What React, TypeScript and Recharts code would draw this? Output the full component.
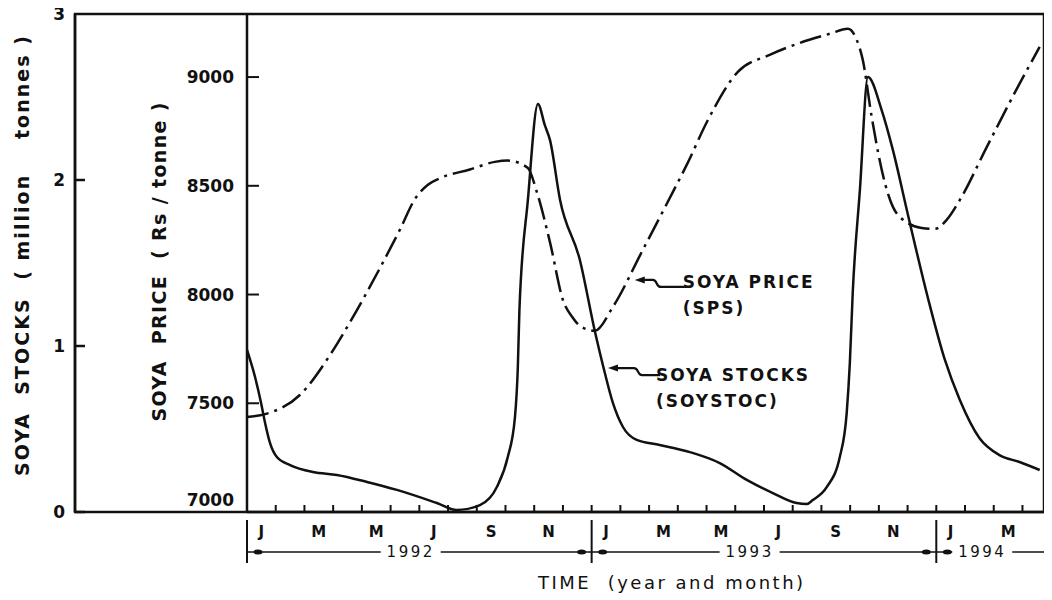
import { LineChart, Line, XAxis, YAxis, ReferenceDot, Label } from 'recharts';

// time axis: months since Jan 1992
const monthLabelPos = [0.5, 2.5, 4.5, 6.5, 8.5, 10.5, 12.5, 14.5, 16.5, 18.5, 20.5, 22.5, 24.5, 26.5];
const monthLabels = ['J', 'M', 'M', 'J', 'S', 'N', 'J', 'M', 'M', 'J', 'S', 'N', 'J', 'M'];
const monthMarks = [0, 1, 2, 3, 4, 5, 6, 7, 8, 9, 10, 11, 12, 13, 14, 15, 16, 17, 18, 19, 20, 21, 22, 23, 24, 25, 26, 27];
const yearBounds = [0, 12, 24];
const yearLabelPos = [5.7, 17.5, 25.6];
const yearLabels = ['1992', '1993', '1994'];
const timeEnd = 27.75;

const stockTicks = [0, 1, 2, 3];
const priceTicks = [7000, 7500, 8000, 8500, 9000];

// SOYA PRICE (SPS), Rs/tonne
const priceMonths = [0, 0.63, 1.84, 2.89, 3.59, 4.63, 5.33, 5.85, 6.3, 6.72, 7.76, 8.63, 9.08, 9.78, 10.09, 10.55, 11.0, 11.35, 11.59, 12.11, 12.74, 13.78, 14.83, 15.31, 16.05, 17.09, 18.2, 19.25, 20.29, 20.92, 21.23, 21.44, 21.75, 22.21, 22.49, 23.01, 23.49, 23.95, 24.36, 24.82, 25.76, 26.84, 27.6];
const priceValues = [7437, 7450, 7538, 7722, 7874, 8122, 8300, 8440, 8505, 8535, 8575, 8610, 8616, 8582, 8472, 8240, 7975, 7892, 7856, 7833, 7943, 8205, 8472, 8596, 8803, 9024, 9102, 9157, 9199, 9222, 9171, 9079, 8817, 8513, 8403, 8329, 8306, 8302, 8343, 8435, 8679, 8955, 9139];

// SOYA STOCKS (SOYSTOC), million tonnes
const stockMonths = [0, 0.28, 0.49, 0.63, 0.8, 1.04, 1.5, 2.3, 3.13, 4.18, 5.22, 6.61, 7.3, 8.11, 8.7, 9.08, 9.33, 9.43, 9.485, 9.78, 10.13, 10.37, 10.55, 10.9, 11.59, 12.11, 12.46, 12.74, 13.09, 13.57, 14.37, 15.42, 16.46, 17.4, 18.31, 19.14, 19.49, 19.7, 20.19, 20.64, 20.88, 20.99, 21.09, 21.34, 21.62, 22.1, 22.49, 23.0, 23.7, 24.3, 24.82, 25.5, 26.2, 26.9, 27.6];
const stockValues = [0.976, 0.813, 0.657, 0.536, 0.416, 0.331, 0.283, 0.241, 0.223, 0.181, 0.133, 0.054, 0.012, 0.042, 0.151, 0.331, 0.572, 0.873, 1.217, 1.88, 2.458, 2.33, 2.24, 1.88, 1.518, 1.09, 0.837, 0.657, 0.512, 0.434, 0.404, 0.361, 0.295, 0.193, 0.114, 0.054, 0.048, 0.072, 0.151, 0.331, 0.596, 0.898, 1.319, 1.94, 2.62, 2.42, 2.18, 1.8, 1.295, 0.916, 0.675, 0.446, 0.343, 0.301, 0.253];

const priceData = priceMonths.map((m, i) => ({ m, v: priceValues[i] }));
const stockData = stockMonths.map((m, i) => ({ m, v: stockValues[i] }));

const INK = '#111';
const FONT = '"DejaVu Sans", sans-serif';

// layout
const CHART_W = 1044;
const CHART_H = 592;
const MARGIN = { top: 6, right: 8, bottom: 4, left: 0 };
const STOCK_AXIS_W = 67;
const PRICE_AXIS_W = 172;
const MONTH_AXIS_H = 40;
const YEAR_AXIS_H = 44;
const PLOT_W = CHART_W - MARGIN.left - MARGIN.right - STOCK_AXIS_W - PRICE_AXIS_W;
const PLOT_H = CHART_H - MARGIN.top - MARGIN.bottom - MONTH_AXIS_H - YEAR_AXIS_H;

function StockTick(props: any) {
  const { x, y, payload } = props;
  const v = Number(payload.value);
  return (
    <g>
      {v === 3 ? (
        // outer frame: from the stock axis across the price band and the plot
        <rect x={x} y={y} width={PRICE_AXIS_W + PLOT_W} height={PLOT_H} fill="none" stroke={INK} strokeWidth={2.5} />
      ) : (
        <line x1={x} x2={x + 10} y1={y} y2={y} stroke={INK} strokeWidth={2.5} />
      )}
      <text x={x - 10} y={y} textAnchor="end" dominantBaseline="central" fontSize={17} fontWeight={700} fill={INK} fontFamily={FONT}>
        {v}
      </text>
    </g>
  );
}

function PriceTick(props: any) {
  const { x, y, payload } = props;
  const v = payload.value;
  return (
    <g>
      {v !== 7000 && <line x1={x} x2={x + 12} y1={y} y2={y} stroke={INK} strokeWidth={2} />}
      <text x={x - 13} y={v === 7000 ? y - 12 : y} textAnchor="end" dominantBaseline="central" fontSize={17} fontWeight={700} fill={INK} fontFamily={FONT}>
        {v}
      </text>
    </g>
  );
}

function MonthTick(props: any) {
  const { x, y, payload } = props;
  const v = payload.value;
  if (Number.isInteger(v)) {
    if (v === 0) return null;
    return <line x1={x} x2={x} y1={y} y2={y - 7} stroke={INK} strokeWidth={2} />;
  }
  const i = monthLabelPos.indexOf(v);
  return (
    <text x={x} y={y + 20} textAnchor="middle" dominantBaseline="central" fontSize={15} fontWeight={700} fill={INK} fontFamily={FONT}>
      {monthLabels[i]}
    </text>
  );
}

function YearTick(props: any) {
  const { x, y, payload } = props;
  const v = payload.value;
  const b = yearBounds.indexOf(v);
  if (b >= 0) {
    return (
      <g>
        <line x1={x} x2={x} y1={y - 32} y2={y + 11} stroke={INK} strokeWidth={2} />
        {b > 0 && <ellipse cx={x - 10} cy={y} rx={4.5} ry={2.5} fill={INK} />}
        <ellipse cx={x + 11} cy={y} rx={4.5} ry={2.5} fill={INK} />
      </g>
    );
  }
  const i = yearLabelPos.indexOf(v);
  return (
    <g>
      <rect x={x - 30} y={y - 8} width={60} height={16} fill="#fff" />
      <text x={x} y={y} textAnchor="middle" dominantBaseline="central" fontSize={15} letterSpacing={2.5} fill={INK} fontFamily={FONT}>
        {yearLabels[i]}
      </text>
    </g>
  );
}

function AxisTitle({ viewBox, value, dx, dy, length }: any) {
  const cx = viewBox.x + dx;
  const cy = viewBox.y + viewBox.height / 2 + dy;
  return (
    <text
      x={cx}
      y={cy}
      transform={`rotate(-90 ${cx} ${cy})`}
      textAnchor="middle"
      dominantBaseline="central"
      fontSize={19}
      fontWeight={700}
      fill={INK}
      fontFamily={FONT}
      textLength={length}
      lengthAdjust="spacing"
      style={{ whiteSpace: 'pre' }}
    >
      {value}
    </text>
  );
}

function Callout({ cx, cy, lines, bend, textDy }: any) {
  return (
    <g>
      <path d={`M${cx} ${cy} l10 -3.5 l0 7 z`} fill={INK} />
      <path
        d={`M${cx + 8} ${cy} h${bend} c5 0 3 7 8 7 h${36 - bend}`}
        fill="none"
        stroke={INK}
        strokeWidth={2.2}
      />
      {lines.map((t: string, i: number) => (
        <text key={t} x={cx + 48} y={cy + textDy + i * 26} dominantBaseline="central" fontSize={17} fontWeight={600} letterSpacing={2} fill={INK} fontFamily={FONT}>
          {t}
        </text>
      ))}
    </g>
  );
}

export default function App() {
  return (
    <LineChart width={CHART_W} height={CHART_H} margin={MARGIN}>
      <XAxis
        xAxisId="m"
        dataKey="m"
        type="number"
        domain={[0, timeEnd]}
        allowDataOverflow
        ticks={[...monthMarks, ...monthLabelPos].sort((a, b) => a - b)}
        interval={0}
        height={MONTH_AXIS_H}
        tickSize={0}
        tickMargin={0}
        tickLine={false}
        axisLine={{ stroke: INK, strokeWidth: 2.5 }}
        tick={(p: any) => <MonthTick {...p} />}
      />
      <XAxis
        xAxisId="y"
        dataKey="m"
        type="number"
        domain={[0, timeEnd]}
        allowDataOverflow
        ticks={[...yearBounds, ...yearLabelPos].sort((a, b) => a - b)}
        interval={0}
        height={YEAR_AXIS_H}
        tickSize={0}
        tickMargin={0}
        tickLine={false}
        axisLine={{ stroke: INK, strokeWidth: 1.5 }}
        tick={(p: any) => <YearTick {...p} />}
      >
        <Label
          content={(p: any) => (
            <text x={p.viewBox.x + 291} y={p.viewBox.y + 30} dominantBaseline="central" fontSize={18} letterSpacing={2.5} fill={INK} fontFamily={FONT} style={{ whiteSpace: 'pre' }}>
              TIME  (year and month)
            </text>
          )}
        />
      </XAxis>
      <YAxis
        yAxisId="price"
        domain={[7000, 9290]}
        allowDataOverflow
        ticks={priceTicks}
        interval={0}
        width={PRICE_AXIS_W}
        tickSize={0}
        tickMargin={0}
        tickLine={false}
        axisLine={{ stroke: INK, strokeWidth: 2.5 }}
        tick={(p: any) => <PriceTick {...p} />}
      >
        <Label content={(p: any) => <AxisTitle {...p} value="SOYA  PRICE  ( Rs / tonne )" dx={84} dy={-1} length={319} />} />
      </YAxis>
      <YAxis
        yAxisId="stock"
        domain={[0, 3]}
        allowDataOverflow
        ticks={stockTicks}
        interval={0}
        width={STOCK_AXIS_W}
        tickSize={0}
        tickMargin={0}
        tickLine={false}
        axisLine={{ stroke: INK, strokeWidth: 2.5 }}
        tick={(p: any) => <StockTick {...p} />}
      >
        <Label content={(p: any) => <AxisTitle {...p} value="SOYA  STOCKS  ( million    tonnes )" dx={14} dy={-7} length={440} />} />
      </YAxis>
      <Line
        xAxisId="m"
        yAxisId="price"
        data={priceData}
        dataKey="v"
        type="monotone"
        stroke={INK}
        strokeWidth={2.5}
        strokeDasharray="22 6 3 6"
        dot={false}
        isAnimationActive={false}
      />
      <Line
        xAxisId="m"
        yAxisId="stock"
        data={stockData}
        dataKey="v"
        type="monotone"
        stroke={INK}
        strokeWidth={2.5}
        dot={false}
        isAnimationActive={false}
      />
      <ReferenceDot
        xAxisId="m"
        yAxisId="price"
        x={13.5}
        y={8067}
        shape={(p: any) => <Callout {...p} lines={['SOYA PRICE', '(SPS)']} bend={10} textDy={2} />}
      />
      <ReferenceDot
        xAxisId="m"
        yAxisId="stock"
        x={12.57}
        y={0.867}
        shape={(p: any) => <Callout {...p} lines={['SOYA STOCKS', '(SOYSTOC)']} bend={18} textDy={7} />}
      />
    </LineChart>
  );
}
